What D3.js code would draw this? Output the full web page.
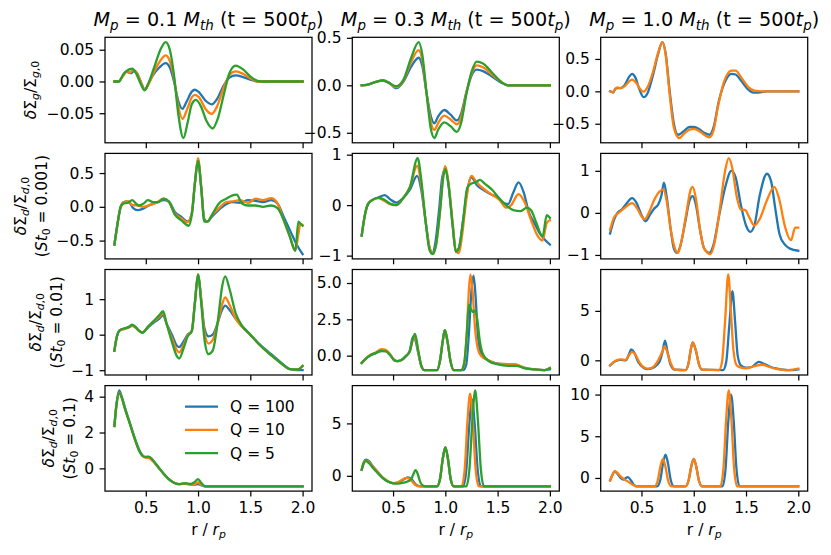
<!DOCTYPE html>
<html><head><meta charset="utf-8">
<script src="https://cdn.jsdelivr.net/npm/d3@7"></script>
<style>body{margin:0;background:#fff}text{white-space:pre}</style>
</head><body><svg id="c" width="831" height="555"></svg>
<script>
// ---------- data ----------
const xTicks = [0.5, 1.0, 1.5, 2.0];
const massLabels = ["0.1", "0.3", "1.0"];
const stokesLabels = ["0.001", "0.01", "0.1"];
const seriesNames = ["Q = 100", "Q = 10", "Q = 5"];

// Row 1: gas
const gas_m01_q100 = [[0.2,0],[0.24,0],[0.27,0.006],[0.31,0.015],[0.34,0.014],[0.36,0.013],[0.39,0.017],[0.42,0.012],[0.46,-0.004],[0.49,-0.013],[0.52,-0.005],[0.57,0.01],[0.63,0.022],[0.69,0.029],[0.73,0.022],[0.77,0.0],[0.81,-0.03],[0.85,-0.043],[0.89,-0.032],[0.94,-0.016],[0.97,-0.013],[1.01,-0.017],[1.07,-0.03],[1.13,-0.036],[1.18,-0.028],[1.24,-0.008],[1.3,0.006],[1.36,0.0095],[1.43,0.007],[1.5,0.003],[1.57,0.0],[1.62,0],[2.0,0]];
const gas_m01_q10 = [[0.2,0],[0.24,0],[0.28,0.008],[0.32,0.016],[0.35,0.014],[0.38,0.018],[0.42,0.012],[0.46,-0.004],[0.49,-0.013],[0.53,-0.003],[0.58,0.015],[0.64,0.033],[0.69,0.041],[0.73,0.032],[0.77,0.005],[0.81,-0.038],[0.85,-0.059],[0.9,-0.042],[0.94,-0.025],[0.97,-0.021],[1.01,-0.025],[1.07,-0.043],[1.13,-0.051],[1.18,-0.04],[1.24,-0.012],[1.3,0.01],[1.36,0.016],[1.43,0.012],[1.5,0.005],[1.57,0.0],[1.62,0],[2.0,0]];
const gas_m01_q5 = [[0.2,0],[0.245,0],[0.28,0.01],[0.32,0.017],[0.37,0.02],[0.41,0.012],[0.45,-0.003],[0.49,-0.014],[0.53,-0.001],[0.58,0.022],[0.64,0.05],[0.69,0.062],[0.73,0.05],[0.77,0.01],[0.81,-0.05],[0.86,-0.089],[0.9,-0.065],[0.94,-0.036],[0.98,-0.029],[1.03,-0.04],[1.08,-0.062],[1.14,-0.074],[1.19,-0.058],[1.25,-0.018],[1.3,0.013],[1.36,0.025],[1.43,0.019],[1.5,0.008],[1.57,0.001],[1.62,0],[2.0,0]];

const gas_m03_q100 = [[0.2,0],[0.25,0.005],[0.32,0.03],[0.4,0.055],[0.46,0.03],[0.53,-0.03],[0.6,0.04],[0.67,0.19],[0.745,0.29],[0.78,0.2],[0.82,-0.08],[0.86,-0.32],[0.895,-0.4],[0.93,-0.33],[0.99,-0.26],[1.05,-0.31],[1.11,-0.37],[1.15,-0.3],[1.2,-0.08],[1.25,0.1],[1.3,0.165],[1.36,0.15],[1.45,0.09],[1.53,0.03],[1.6,0],[2.0,0]];
const gas_m03_q10 = [[0.2,0],[0.25,0.005],[0.32,0.03],[0.4,0.05],[0.46,0.025],[0.53,-0.02],[0.6,0.05],[0.67,0.24],[0.745,0.37],[0.78,0.26],[0.82,-0.08],[0.86,-0.38],[0.895,-0.47],[0.93,-0.4],[0.99,-0.32],[1.05,-0.36],[1.11,-0.41],[1.15,-0.34],[1.2,-0.08],[1.25,0.12],[1.3,0.21],[1.36,0.19],[1.45,0.11],[1.53,0.04],[1.6,0],[2.0,0]];
const gas_m03_q5 = [[0.2,0],[0.25,0.005],[0.32,0.03],[0.4,0.05],[0.46,0.025],[0.53,-0.01],[0.6,0.06],[0.67,0.28],[0.745,0.455],[0.78,0.32],[0.82,-0.08],[0.86,-0.45],[0.895,-0.555],[0.93,-0.47],[0.99,-0.39],[1.05,-0.43],[1.11,-0.49],[1.15,-0.4],[1.2,-0.1],[1.25,0.14],[1.3,0.25],[1.36,0.23],[1.45,0.13],[1.53,0.04],[1.6,0],[2.0,0]];

const gas_m10_q100 = [[0.2,0],[0.23,-0.02],[0.25,0.04],[0.27,0.05],[0.3,0.05],[0.34,0.1],[0.38,0.22],[0.41,0.27],[0.44,0.22],[0.48,0.03],[0.52,-0.09],[0.56,-0.02],[0.61,0.25],[0.66,0.58],[0.7,0.76],[0.73,0.6],[0.77,0.0],[0.81,-0.5],[0.85,-0.67],[0.9,-0.62],[0.96,-0.55],[1.0,-0.55],[1.05,-0.58],[1.1,-0.64],[1.15,-0.67],[1.19,-0.55],[1.24,-0.15],[1.3,0.15],[1.36,0.27],[1.4,0.26],[1.46,0.15],[1.52,0.03],[1.57,-0.02],[1.62,-0.02],[1.7,0],[2.0,0]];
const gas_m10_q10 = [[0.2,0],[0.23,-0.01],[0.25,0.04],[0.27,0.06],[0.3,0.05],[0.34,0.08],[0.38,0.15],[0.41,0.18],[0.45,0.13],[0.49,0.03],[0.52,-0.005],[0.56,0.07],[0.61,0.3],[0.66,0.6],[0.7,0.76],[0.73,0.58],[0.77,-0.05],[0.81,-0.56],[0.86,-0.72],[0.91,-0.65],[0.96,-0.59],[1.0,-0.58],[1.05,-0.61],[1.1,-0.67],[1.15,-0.71],[1.19,-0.6],[1.23,-0.25],[1.29,0.15],[1.36,0.32],[1.4,0.32],[1.46,0.2],[1.52,0.07],[1.58,0.01],[1.65,0],[2.0,0]];

// Row 2: dust St0 = 0.001
const d001_m01_q100 = [[0.2,-0.56],[0.23,-0.25],[0.26,0.0],[0.29,0.07],[0.32,0.08],[0.35,0.05],[0.38,-0.02],[0.42,-0.05],[0.47,-0.03],[0.53,0.02],[0.6,0.06],[0.67,0.1],[0.72,0.08],[0.78,-0.08],[0.84,-0.15],[0.9,-0.22],[0.94,-0.1],[0.97,0.35],[1.0,0.7],[1.03,0.3],[1.06,-0.18],[1.09,-0.22],[1.13,-0.15],[1.18,-0.07],[1.25,0.02],[1.32,0.07],[1.4,0.06],[1.48,0.1],[1.55,0.09],[1.62,0.07],[1.7,0.1],[1.76,0.05],[1.82,-0.15],[1.88,-0.35],[1.94,-0.55],[2.0,-0.7]];
const d001_m01_q10 = [[0.2,-0.56],[0.23,-0.25],[0.26,0.0],[0.29,0.07],[0.33,0.08],[0.37,0.03],[0.42,0.02],[0.48,0.0],[0.54,0.03],[0.6,0.06],[0.67,0.12],[0.72,0.07],[0.78,-0.1],[0.84,-0.17],[0.9,-0.23],[0.94,-0.1],[0.97,0.35],[1.0,0.72],[1.03,0.3],[1.06,-0.2],[1.09,-0.22],[1.13,-0.13],[1.2,-0.02],[1.27,0.07],[1.33,0.08],[1.4,0.1],[1.48,0.06],[1.55,0.12],[1.62,0.1],[1.7,0.13],[1.76,0.05],[1.82,-0.2],[1.88,-0.45],[1.93,-0.65],[1.96,-0.4],[1.98,-0.25],[2.0,-0.27]];
const d001_m01_q5 = [[0.2,-0.56],[0.23,-0.25],[0.26,0.0],[0.29,0.05],[0.33,0.06],[0.37,0.1],[0.4,0.06],[0.43,0.02],[0.48,0.05],[0.52,0.1],[0.57,0.07],[0.62,0.07],[0.67,0.12],[0.72,0.08],[0.78,-0.12],[0.84,-0.2],[0.91,-0.28],[0.94,-0.12],[0.97,0.35],[1.0,0.68],[1.03,0.28],[1.06,-0.22],[1.09,-0.22],[1.14,-0.1],[1.2,0.05],[1.27,0.12],[1.33,0.17],[1.37,0.18],[1.42,0.05],[1.48,0.02],[1.55,0.02],[1.62,0.0],[1.7,0.02],[1.76,-0.02],[1.82,-0.2],[1.88,-0.45],[1.93,-0.65],[1.96,-0.22],[1.98,-0.25],[2.0,-0.28]];

const d001_m03_q100 = [[0.2,-0.6],[0.23,-0.2],[0.26,0.02],[0.3,0.1],[0.36,0.15],[0.42,0.2],[0.47,0.12],[0.53,0.05],[0.6,0.15],[0.66,0.3],[0.73,0.58],[0.77,0.3],[0.81,-0.3],[0.85,-0.85],[0.875,-0.95],[0.9,-0.8],[0.94,-0.1],[0.97,0.55],[1.0,0.72],[1.03,0.4],[1.07,-0.4],[1.1,-0.92],[1.13,-0.85],[1.17,-0.3],[1.21,0.3],[1.25,0.55],[1.3,0.4],[1.38,0.28],[1.45,0.2],[1.51,0.15],[1.55,0.05],[1.6,0.02],[1.65,0.25],[1.7,0.45],[1.75,0.25],[1.8,-0.15],[1.85,-0.35],[1.9,-0.55],[1.95,-0.68],[2.0,-0.78]];
const d001_m03_q10 = [[0.2,-0.6],[0.23,-0.2],[0.26,0.02],[0.3,0.1],[0.36,0.14],[0.42,0.08],[0.47,0.02],[0.53,0.0],[0.6,0.15],[0.66,0.35],[0.73,0.78],[0.77,0.4],[0.81,-0.3],[0.85,-0.85],[0.88,-0.95],[0.91,-0.8],[0.95,-0.1],[0.98,0.6],[1.0,0.77],[1.03,0.45],[1.07,-0.35],[1.1,-0.9],[1.13,-0.95],[1.16,-0.6],[1.2,0.1],[1.25,0.58],[1.3,0.45],[1.38,0.3],[1.45,0.2],[1.52,0.1],[1.58,-0.05],[1.63,0.0],[1.7,0.22],[1.76,0.05],[1.82,-0.3],[1.88,-0.6],[1.93,-0.7],[1.97,-0.35],[2.0,-0.3]];
const d001_m03_q5 = [[0.2,-0.6],[0.23,-0.2],[0.26,0.02],[0.3,0.1],[0.36,0.15],[0.42,0.1],[0.47,0.03],[0.53,0.0],[0.6,0.15],[0.66,0.35],[0.735,0.93],[0.77,0.5],[0.81,-0.3],[0.85,-0.9],[0.88,-0.97],[0.91,-0.8],[0.95,-0.1],[0.98,0.55],[1.0,0.72],[1.03,0.4],[1.07,-0.4],[1.1,-0.92],[1.13,-0.85],[1.17,-0.3],[1.21,0.35],[1.25,0.43],[1.29,0.45],[1.33,0.5],[1.38,0.42],[1.45,0.3],[1.52,0.12],[1.58,0.0],[1.65,-0.1],[1.72,-0.12],[1.78,-0.05],[1.82,-0.1],[1.87,-0.35],[1.93,-0.62],[1.97,-0.2],[2.0,-0.25]];

const d001_m10_q100 = [[0.2,-0.49],[0.24,-0.15],[0.27,0.0],[0.31,0.08],[0.35,0.2],[0.41,0.35],[0.45,0.25],[0.5,-0.05],[0.54,-0.2],[0.58,-0.05],[0.62,0.1],[0.66,0.2],[0.69,0.4],[0.715,0.72],[0.74,0.4],[0.78,-0.4],[0.81,-0.85],[0.84,-0.95],[0.87,-0.8],[0.92,-0.2],[0.96,0.3],[0.99,0.4],[1.02,0.2],[1.06,-0.4],[1.1,-0.85],[1.15,-0.95],[1.19,-0.75],[1.24,-0.1],[1.3,0.6],[1.36,1.0],[1.4,0.85],[1.45,0.2],[1.5,-0.3],[1.54,-0.45],[1.58,-0.3],[1.63,0.4],[1.7,0.93],[1.74,0.75],[1.78,0.1],[1.82,-0.5],[1.87,-0.75],[1.92,-0.85],[2.0,-0.9]];
const d001_m10_q10 = [[0.2,-0.4],[0.24,-0.1],[0.29,0.02],[0.34,0.12],[0.41,0.23],[0.46,0.1],[0.5,-0.08],[0.53,-0.15],[0.57,0.0],[0.62,0.3],[0.67,0.5],[0.71,0.56],[0.74,0.3],[0.78,-0.4],[0.82,-0.85],[0.85,-0.95],[0.88,-0.7],[0.93,0.0],[0.97,0.55],[0.99,0.62],[1.02,0.35],[1.06,-0.4],[1.1,-0.85],[1.16,-0.98],[1.2,-0.7],[1.25,0.1],[1.3,1.0],[1.335,1.3],[1.37,1.05],[1.41,0.4],[1.45,0.08],[1.49,0.07],[1.53,-0.1],[1.58,-0.3],[1.63,-0.15],[1.7,0.3],[1.77,0.62],[1.82,0.3],[1.87,-0.3],[1.93,-0.65],[1.97,-0.35],[2.0,-0.35]];

// Row 3: dust St0 = 0.01
const d01_m01_q100 = [[0.2,-0.45],[0.22,-0.1],[0.25,0.12],[0.3,0.18],[0.34,0.22],[0.37,0.27],[0.4,0.22],[0.44,0.1],[0.47,0.07],[0.52,0.2],[0.58,0.35],[0.63,0.45],[0.665,0.55],[0.7,0.3],[0.75,0.0],[0.8,-0.32],[0.82,-0.35],[0.86,-0.2],[0.9,0.0],[0.94,0.1],[0.97,0.9],[1.0,1.68],[1.03,1.0],[1.06,0.2],[1.1,-0.05],[1.14,0.0],[1.19,0.35],[1.23,0.7],[1.26,0.82],[1.3,0.7],[1.36,0.45],[1.42,0.25],[1.5,0.0],[1.6,-0.3],[1.7,-0.55],[1.8,-0.8],[1.88,-0.97],[1.95,-1.0],[2.0,-1.0]];
const d01_m01_q10 = [[0.2,-0.45],[0.22,-0.1],[0.25,0.12],[0.3,0.16],[0.34,0.2],[0.37,0.25],[0.4,0.2],[0.44,0.1],[0.47,0.07],[0.52,0.22],[0.58,0.38],[0.63,0.5],[0.665,0.6],[0.7,0.3],[0.75,-0.1],[0.8,-0.45],[0.82,-0.5],[0.86,-0.3],[0.9,-0.02],[0.94,0.1],[0.97,0.9],[1.0,1.7],[1.03,1.0],[1.06,0.1],[1.1,-0.25],[1.14,-0.15],[1.19,0.35],[1.23,0.85],[1.26,1.05],[1.3,0.85],[1.36,0.45],[1.42,0.22],[1.5,0.0],[1.6,-0.32],[1.7,-0.58],[1.8,-0.82],[1.88,-0.97],[1.95,-0.98],[2.0,-0.88]];
const d01_m01_q5 = [[0.2,-0.45],[0.22,-0.1],[0.25,0.12],[0.3,0.18],[0.34,0.22],[0.37,0.28],[0.4,0.22],[0.44,0.1],[0.47,0.05],[0.52,0.22],[0.58,0.4],[0.63,0.55],[0.665,0.66],[0.7,0.3],[0.75,-0.2],[0.8,-0.62],[0.82,-0.67],[0.86,-0.4],[0.9,-0.05],[0.94,0.1],[0.97,0.9],[1.0,1.7],[1.03,0.9],[1.06,-0.1],[1.1,-0.55],[1.14,-0.45],[1.19,0.4],[1.23,1.35],[1.26,1.64],[1.3,1.3],[1.36,0.6],[1.42,0.25],[1.5,0.0],[1.6,-0.32],[1.7,-0.58],[1.8,-0.82],[1.88,-0.97],[1.95,-0.98],[2.0,-0.88]];

const d01_m03_q100 = [[0.2,-0.5],[0.24,-0.2],[0.28,0.0],[0.33,0.15],[0.39,0.35],[0.43,0.35],[0.47,0.1],[0.51,-0.3],[0.54,-0.38],[0.58,-0.3],[0.62,-0.05],[0.66,0.35],[0.69,1.3],[0.71,1.15],[0.74,0.2],[0.77,-0.7],[0.8,-1.0],[0.92,-1.0],[0.95,-0.3],[0.975,1.0],[0.995,1.75],[1.02,1.0],[1.05,-0.4],[1.08,-1.0],[1.17,-1.0],[1.2,-0.6],[1.225,1.5],[1.25,4.5],[1.27,5.5],[1.29,4.0],[1.31,1.5],[1.335,0.3],[1.36,-0.05],[1.42,-0.35],[1.5,-0.55],[1.6,-0.6],[1.67,-0.62],[1.75,-0.82],[1.85,-0.95],[1.95,-1.0],[2.0,-0.95]];
const d01_m03_q10 = [[0.2,-0.5],[0.24,-0.2],[0.28,0.05],[0.33,0.2],[0.39,0.45],[0.43,0.4],[0.47,0.1],[0.51,-0.3],[0.54,-0.38],[0.58,-0.3],[0.62,-0.05],[0.66,0.3],[0.69,1.1],[0.71,1.3],[0.74,0.3],[0.77,-0.7],[0.8,-1.0],[0.92,-1.0],[0.95,-0.3],[0.975,1.0],[0.995,1.75],[1.02,1.0],[1.05,-0.4],[1.08,-1.0],[1.15,-1.0],[1.18,-0.6],[1.205,1.5],[1.225,4.5],[1.24,5.6],[1.26,4.5],[1.285,1.8],[1.31,0.5],[1.34,0.0],[1.42,-0.35],[1.5,-0.55],[1.6,-0.58],[1.67,-0.6],[1.75,-0.82],[1.85,-0.95],[1.95,-1.0],[2.0,-0.85]];
const d01_m03_q5 = [[0.2,-0.5],[0.24,-0.2],[0.28,0.02],[0.33,0.18],[0.39,0.32],[0.43,0.3],[0.47,0.05],[0.51,-0.3],[0.54,-0.38],[0.58,-0.3],[0.62,-0.05],[0.66,0.3],[0.69,1.2],[0.71,1.5],[0.74,0.4],[0.77,-0.7],[0.8,-1.0],[0.92,-1.0],[0.95,-0.3],[0.975,1.0],[0.995,1.75],[1.02,1.0],[1.05,-0.4],[1.08,-1.0],[1.15,-1.0],[1.18,-0.5],[1.205,1.5],[1.225,3.5],[1.245,3.2],[1.265,3.0],[1.285,3.1],[1.305,2.5],[1.33,1.0],[1.36,0.1],[1.42,-0.4],[1.5,-0.6],[1.6,-0.7],[1.68,-0.7],[1.75,-0.85],[1.85,-0.95],[1.95,-1.0],[2.0,-0.85]];

const d01_m10_q100 = [[0.2,-0.5],[0.25,-0.1],[0.3,0.05],[0.35,0.0],[0.38,0.6],[0.4,1.1],[0.43,0.8],[0.47,-0.2],[0.52,-0.75],[0.56,-0.9],[0.62,-0.7],[0.67,-0.2],[0.7,0.8],[0.725,2.0],[0.75,0.8],[0.78,-0.5],[0.82,-0.95],[0.92,-1.0],[0.95,-0.3],[0.97,1.0],[0.99,1.8],[1.02,1.0],[1.05,-0.4],[1.08,-0.95],[1.28,-1.0],[1.31,-0.2],[1.34,3.5],[1.37,7.0],[1.395,4.0],[1.42,0.5],[1.45,-0.5],[1.5,-0.75],[1.56,-0.65],[1.62,-0.15],[1.67,-0.35],[1.73,-0.65],[1.8,-0.85],[1.9,-1.0],[1.95,-1.0],[2.0,-0.92]];
const d01_m10_q10 = [[0.2,-0.5],[0.25,-0.05],[0.3,0.1],[0.35,0.05],[0.38,0.5],[0.41,0.85],[0.44,0.6],[0.48,-0.2],[0.53,-0.75],[0.57,-0.85],[0.62,-0.6],[0.66,0.0],[0.7,0.9],[0.72,1.4],[0.745,0.9],[0.78,-0.3],[0.82,-0.95],[0.92,-1.0],[0.95,-0.3],[0.97,1.0],[0.99,1.8],[1.02,1.0],[1.05,-0.4],[1.08,-0.95],[1.24,-1.0],[1.27,-0.2],[1.3,4.0],[1.33,8.7],[1.355,5.0],[1.38,1.0],[1.41,-0.5],[1.45,-0.75],[1.5,-0.8],[1.58,-0.6],[1.65,-0.45],[1.72,-0.65],[1.8,-0.9],[1.9,-1.0],[1.95,-0.95],[2.0,-0.85]];

// Row 4: dust St0 = 0.1
const d1_m01_q100 = [[0.2,2.37],[0.22,3.6],[0.245,4.35],[0.27,4.0],[0.3,3.4],[0.35,2.5],[0.4,1.6],[0.44,1.0],[0.47,0.72],[0.5,0.62],[0.53,0.6],[0.57,0.4],[0.62,0.05],[0.67,-0.3],[0.72,-0.6],[0.77,-0.8],[0.82,-0.88],[0.88,-0.86],[0.93,-0.9],[0.97,-0.9],[1.0,-0.88],[1.03,-0.94],[1.07,-1.0],[2.0,-1.0]];
const d1_m01_q10 = [[0.2,2.37],[0.22,3.55],[0.245,4.22],[0.27,3.95],[0.3,3.35],[0.35,2.45],[0.4,1.55],[0.44,0.95],[0.47,0.68],[0.5,0.6],[0.53,0.58],[0.57,0.4],[0.62,0.05],[0.67,-0.3],[0.72,-0.6],[0.77,-0.8],[0.82,-0.88],[0.88,-0.86],[0.93,-0.9],[0.97,-0.87],[1.0,-0.78],[1.03,-0.9],[1.07,-1.0],[2.0,-1.0]];
const d1_m01_q5 = [[0.2,2.37],[0.22,3.55],[0.245,4.2],[0.27,3.95],[0.3,3.35],[0.35,2.45],[0.4,1.55],[0.44,0.95],[0.47,0.7],[0.5,0.64],[0.53,0.66],[0.57,0.45],[0.62,0.08],[0.67,-0.28],[0.72,-0.6],[0.77,-0.8],[0.82,-0.88],[0.88,-0.83],[0.93,-0.86],[0.97,-0.75],[1.0,-0.6],[1.03,-0.8],[1.07,-1.0],[2.0,-1.0]];

const d1_m03_q100 = [[0.2,0.57],[0.22,1.3],[0.24,1.55],[0.27,1.4],[0.3,1.0],[0.35,0.4],[0.4,-0.2],[0.45,-0.55],[0.5,-0.7],[0.55,-0.65],[0.6,-0.35],[0.64,-0.15],[0.68,-0.35],[0.72,-0.85],[0.76,-1.0],[0.92,-1.0],[0.95,-0.26],[0.975,1.6],[1.0,2.7],[1.025,1.6],[1.05,-0.26],[1.08,-1.0],[1.17,-1.0],[1.2,0.5],[1.23,5.0],[1.255,7.3],[1.28,5.0],[1.31,0.5],[1.34,-1.0],[2.0,-1.0]];
const d1_m03_q10 = [[0.2,0.6],[0.22,1.25],[0.24,1.45],[0.27,1.3],[0.3,0.95],[0.35,0.4],[0.4,-0.15],[0.45,-0.5],[0.5,-0.7],[0.55,-0.6],[0.59,-0.35],[0.63,-0.2],[0.67,-0.4],[0.71,-0.85],[0.75,-1.0],[0.92,-1.0],[0.95,-0.26],[0.975,1.6],[1.0,2.7],[1.025,1.6],[1.05,-0.26],[1.08,-1.0],[1.155,-1.0],[1.185,0.6],[1.212,5.3],[1.237,7.85],[1.262,5.3],[1.29,0.6],[1.32,-1.0],[2.0,-1.0]];
const d1_m03_q5 = [[0.2,0.6],[0.22,1.2],[0.24,1.4],[0.27,1.2],[0.3,0.85],[0.35,0.3],[0.4,-0.2],[0.45,-0.55],[0.5,-0.72],[0.55,-0.75],[0.6,-0.65],[0.65,-0.5],[0.68,-0.2],[0.7,0.3],[0.715,0.55],[0.735,0.2],[0.76,-0.6],[0.79,-0.95],[0.81,-1.0],[0.92,-1.0],[0.95,-0.26],[0.975,1.6],[1.0,2.7],[1.025,1.6],[1.05,-0.26],[1.08,-1.0],[1.2,-1.0],[1.23,0.6],[1.26,5.5],[1.285,8.15],[1.31,5.5],[1.34,0.6],[1.37,-1.0],[2.0,-1.0]];

const d1_m10_q100 = [[0.2,-0.3],[0.22,0.3],[0.245,0.8],[0.27,0.5],[0.3,0.0],[0.33,-0.2],[0.35,0.0],[0.37,0.1],[0.4,-0.3],[0.43,-0.85],[0.46,-1.0],[0.65,-1.0],[0.68,-0.24],[0.705,1.66],[0.73,2.8],[0.755,1.66],[0.78,-0.24],[0.81,-1.0],[0.92,-1.0],[0.95,-0.34],[0.975,1.3],[1.0,2.3],[1.025,1.3],[1.05,-0.34],[1.08,-1.0],[1.275,-1.0],[1.305,1.2],[1.33,6.7],[1.357,10.0],[1.383,6.7],[1.408,1.2],[1.438,-1.0],[2.0,-1.0]];
const d1_m10_q10 = [[0.2,-0.3],[0.22,0.3],[0.245,0.82],[0.27,0.6],[0.3,0.2],[0.34,-0.2],[0.38,-0.5],[0.42,-0.85],[0.45,-1.0],[0.625,-1.0],[0.655,-0.34],[0.68,1.3],[0.705,2.3],[0.73,1.3],[0.755,-0.34],[0.785,-1.0],[0.92,-1.0],[0.95,-0.34],[0.975,1.3],[1.0,2.3],[1.025,1.3],[1.05,-0.34],[1.08,-1.0],[1.255,-1.0],[1.285,1.3],[1.31,7.05],[1.335,10.5],[1.36,7.05],[1.385,1.3],[1.415,-1.0],[2.0,-1.0]];

// y tick values per panel row/col
const yTicks_gas = [[-0.05, 0, 0.05], [-0.5, 0, 0.5], [-0.5, 0, 0.5]];
const yTicks_d001 = [[-0.5, 0, 0.5], [-1, 0, 1], [-1, 0, 1]];
const yTicks_d01 = [[-1, 0, 1], [0, 2.5, 5], [0, 5]];
const yTicks_d1 = [[0, 2, 4], [0, 5], [0, 5, 10]];

// ---------- layout / style ----------
const colors = ["#1f77b4", "#ff7f0e", "#2ca02c"];
const FS = 15.5, TFS = 19.2;
const colX = [105, 352.3, 600.7], axW = 207;
const rowY = [37.3, 153.4, 269.5, 385.6], axH = 105.5;
const TICK = 5.4, PAD = 5.4, LW = 2.3, SW = 1.24;

const panels = [
  {r:0,c:0,s:[gas_m01_q100,gas_m01_q10,gas_m01_q5],t:yTicks_gas[0],f:".2f"},
  {r:0,c:1,s:[gas_m03_q100,gas_m03_q10,gas_m03_q5],t:yTicks_gas[1],f:".1f"},
  {r:0,c:2,s:[gas_m10_q100,gas_m10_q10],t:yTicks_gas[2],f:".1f"},
  {r:1,c:0,s:[d001_m01_q100,d001_m01_q10,d001_m01_q5],t:yTicks_d001[0],f:".1f"},
  {r:1,c:1,s:[d001_m03_q100,d001_m03_q10,d001_m03_q5],t:yTicks_d001[1],f:"d"},
  {r:1,c:2,s:[d001_m10_q100,d001_m10_q10],t:yTicks_d001[2],f:"d"},
  {r:2,c:0,s:[d01_m01_q100,d01_m01_q10,d01_m01_q5],t:yTicks_d01[0],f:"d"},
  {r:2,c:1,s:[d01_m03_q100,d01_m03_q10,d01_m03_q5],t:yTicks_d01[1],f:".1f"},
  {r:2,c:2,s:[d01_m10_q100,d01_m10_q10],t:yTicks_d01[2],f:"d"},
  {r:3,c:0,s:[d1_m01_q100,d1_m01_q10,d1_m01_q5],t:yTicks_d1[0],f:"d"},
  {r:3,c:1,s:[d1_m03_q100,d1_m03_q10,d1_m03_q5],t:yTicks_d1[1],f:"d"},
  {r:3,c:2,s:[d1_m10_q100,d1_m10_q10],t:yTicks_d1[2],f:"d"}
];

const svg = d3.select("#c").attr("font-family", "DejaVu Sans");
svg.append("rect").attr("width", 831).attr("height", 555).attr("fill", "#fff");

// mathtext-like rich text: parts = [[string, style]] style: i=italic, s=subscript
function rich(text, parts, fs) {
  let cur = 0;
  parts.forEach(([str, st]) => {
    const sub = st.includes("s"), it = st.includes("i");
    const want = sub ? 0.22 * fs : 0;
    text.append("tspan").text(str)
      .attr("font-style", it ? "italic" : "normal")
      .attr("font-size", sub ? fs * 0.7 : fs)
      .attr("dy", want - cur);
    cur = want;
  });
  return text;
}

const tickLeft = [Infinity, Infinity, Infinity, Infinity];

panels.forEach((p, i) => {
  const x0 = colX[p.c], y0 = rowY[p.r];
  const xs = d3.scaleLinear().domain([0.11, 2.09]).range([x0, x0 + axW]);
  const ys0 = p.s.flat().map(d => d[1]);
  const lo = d3.min(ys0), hi = d3.max(ys0), pad = (hi - lo) * 0.05;
  const ys = d3.scaleLinear().domain([lo - pad, hi + pad]).range([y0 + axH, y0]);
  const g = svg.append("g");
  const cid = "clip" + i;
  g.append("clipPath").attr("id", cid).append("rect")
    .attr("x", x0).attr("y", y0).attr("width", axW).attr("height", axH);
  const line = d3.line().x(d => xs(d[0])).y(d => ys(d[1])).curve(d3.curveMonotoneX);
  g.append("g").attr("clip-path", `url(#${cid})`)
    .selectAll("path").data(p.s).join("path")
    .attr("d", line).attr("fill", "none")
    .attr("stroke", (d, j) => colors[j]).attr("stroke-width", LW)
    .attr("stroke-linejoin", "round").attr("stroke-linecap", "square");

  const xa = d3.axisBottom(xs).tickValues(xTicks).tickSizeInner(TICK).tickSizeOuter(0).tickPadding(PAD)
    .tickFormat(p.r === 3 ? d3.format(".1f") : () => "");
  const gx = g.append("g").attr("transform", `translate(0,${y0 + axH})`).call(xa);
  const ya = d3.axisLeft(ys).tickValues(p.t).tickSizeInner(TICK).tickSizeOuter(0).tickPadding(PAD)
    .tickFormat(d3.format(p.f));
  const gy = g.append("g").attr("transform", `translate(${x0},0)`).call(ya);
  [gx, gy].forEach(a => {
    a.attr("font-size", FS).attr("font-family", "DejaVu Sans");
    a.select(".domain").remove();
    a.selectAll(".tick line").attr("stroke", "#000").attr("stroke-width", SW);
    a.selectAll(".tick text").attr("fill", "#000");
  });
  if (p.c === 0) {
    gy.selectAll(".tick text").each(function () {
      const b = this.getBBox();
      tickLeft[p.r] = Math.min(tickLeft[p.r], x0 + b.x);
    });
  }
  g.append("rect").attr("x", x0).attr("y", y0).attr("width", axW).attr("height", axH)
    .attr("fill", "none").attr("stroke", "#000").attr("stroke-width", SW);
});

// column titles
massLabels.forEach((m, c) => {
  const t = svg.append("text").attr("x", colX[c] + axW / 2).attr("y", 26)
    .attr("text-anchor", "middle").attr("font-size", TFS);
  rich(t, [["M","i"],["p","si"],[" = " + m + " ",""],["M","i"],["th","si"],[" (t = 500",""],["t","i"],["p","si"],[")",""]], TFS);
});

// x labels
colX.forEach(x0 => {
  const t = svg.append("text").attr("x", x0 + axW / 2).attr("y", 535)
    .attr("text-anchor", "middle").attr("font-size", FS);
  rich(t, [["r / ",""],["r","i"],["p","si"]], FS);
});

// y labels
const yc = r => rowY[r] + axH / 2;
function ylab(r, parts, xb) {
  const t = svg.append("text").attr("transform", `translate(${xb},${yc(r)}) rotate(-90)`)
    .attr("text-anchor", "middle").attr("font-size", FS);
  rich(t, parts, FS);
}
ylab(0, [["δ","i"],["Σ",""],["g","si"],["/",""],["Σ",""],["g","si"],[",0","s"]], tickLeft[0] - 6.2 - 4.5);
stokesLabels.forEach((s, k) => {
  const r = k + 1;
  const xb2 = tickLeft[r] - 6.2 - 3.5;
  ylab(r, [["δ","i"],["Σ",""],["d","si"],["/",""],["Σ",""],["d","si"],[",0","s"]], xb2 - 21);
  ylab(r, [["(",""],["St","i"],["0","s"],[" = " + s + ")",""]], xb2);
});

// legend (row 4, col 1)
const lg = svg.append("g").attr("transform", `translate(${colX[0] + axW - 127},${rowY[3] + 21})`);
seriesNames.forEach((n, j) => {
  lg.append("line").attr("x1", 0).attr("x2", 33).attr("y1", j * 23.3).attr("y2", j * 23.3)
    .attr("stroke", colors[j]).attr("stroke-width", LW);
  lg.append("text").attr("x", 45).attr("y", j * 23.3).attr("dy", "0.35em")
    .attr("font-size", FS).text(n);
});
</script></body></html>
